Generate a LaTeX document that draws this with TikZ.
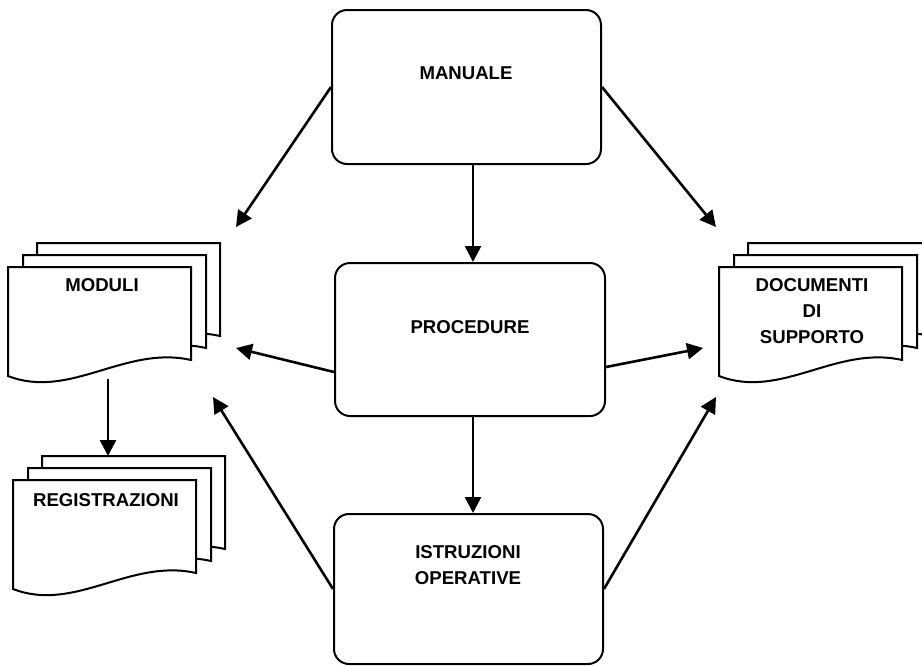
\documentclass[tikz,border=0pt]{standalone}
\usepackage{fontspec}
\setmainfont{Liberation Sans}
\usetikzlibrary{arrows.meta,calc}
\tikzset{
  box/.style={draw, line width=2pt, rounded corners=15pt, fill=white, inner sep=0pt},
  sheet/.style={draw, line width=2pt, fill=white, line join=miter},
  lbl/.style={inner sep=0pt, font=\fontsize{18.6}{26}\selectfont\bfseries, align=center},
  arr/.style={line width=2.6pt, -{Triangle[length=16pt,width=16pt]}},
}
\newcommand\onesheet[2]{%
  \begin{scope}[shift={(#1,#2)}]
    \draw[sheet] (0,0) -- (183,0) -- (183,93) .. controls (117,78) and (62,133) .. (0,109) -- cycle;
  \end{scope}}
\newcommand\docstackdraw[2]{%
  \onesheet{#1+29}{#2-24}%
  \onesheet{#1+15}{#2-12}%
  \onesheet{#1}{#2}}
\begin{document}
\begin{tikzpicture}[x=1pt,y=-1pt]
\useasboundingbox (0,0) rectangle (922,665);
\fill[white] (0,0) rectangle (922,665);

% rounded boxes
\node[box, minimum width=269pt, minimum height=154pt] (man) at (466.5,87) {};
\node[box, minimum width=270pt, minimum height=153pt] (proc) at (470,339.5) {};
\node[box, minimum width=269pt, minimum height=150pt] (istr) at (468.5,589) {};
\node[lbl] (manT) at (466,73) {MANUALE};
\node[lbl] (procT) at (470,327) {PROCEDURE};
\node[lbl] (istrT) at (468,565) {ISTRUZIONI\\OPERATIVE};

% document stacks
\docstackdraw{8}{267}
\docstackdraw{13}{480}
\docstackdraw{719}{267}
\node[lbl] (modT) at (102,285) {MODULI};
\node[lbl] (regT) at (106,500) {REGISTRAZIONI};
\node[lbl] (docT) at (812,311) {DOCUMENTI\\DI\\SUPPORTO};

% arrow end points
\coordinate (modA) at (236,227);
\coordinate (modB) at (236,348);
\coordinate (modC) at (213,397);
\coordinate (docA) at (716,227);
\coordinate (docB) at (703,348);
\coordinate (docC) at (716,397);
\coordinate (modBot) at (108,379);
\coordinate (regTop) at (108,456);

% connectors
\draw[arr] (man.west) -- (modA);
\draw[arr] (man.east) -- (docA);
\draw[arr] ([xshift=6.5pt]man.south) -- ([xshift=6.5pt]man.south |- proc.north);
\draw[arr] ([yshift=-32.5pt]proc.west) -- (modB);
\draw[arr] ([yshift=-27.5pt]proc.east) -- (docB);
\draw[arr] ([xshift=3pt]proc.south) -- ([xshift=3pt]proc.south |- istr.north);
\draw[arr] (istr.west) -- (modC);
\draw[arr] (istr.east) -- (docC);
\draw[arr] (modBot) -- (regTop);
\end{tikzpicture}
\end{document}
